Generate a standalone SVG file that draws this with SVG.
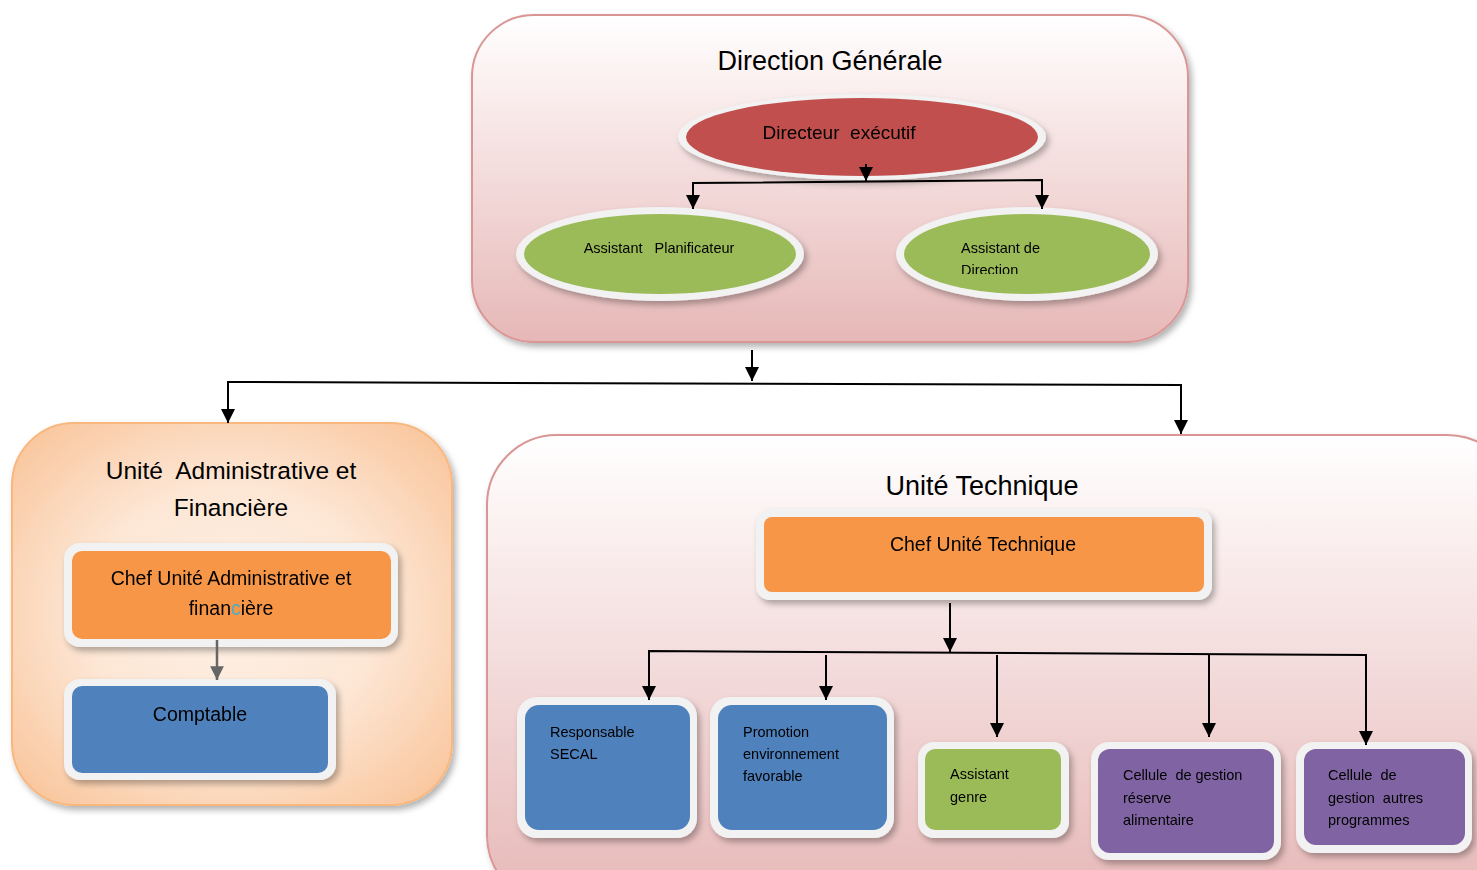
<svg xmlns="http://www.w3.org/2000/svg" width="1477" height="870" viewBox="0 0 1477 870">
<style>
text{font-family:"Liberation Sans",Arial,sans-serif;fill:#000;white-space:pre}
.t{font-size:27px;text-anchor:middle}
.m{font-size:19.5px;text-anchor:middle}
.s{font-size:14.5px}
.ring{fill:#f2f2f2}
.line{fill:none;stroke:#000;stroke-width:2}
</style>
<defs>
<linearGradient id="pinkG" x1="0" y1="0" x2="0" y2="1">
<stop offset="0" stop-color="#ffffff"/>
<stop offset="0.2" stop-color="#fbf0f0"/>
<stop offset="1" stop-color="#e6b8b7"/>
</linearGradient>
<radialGradient id="orG" cx="0.5" cy="0.5" r="0.75">
<stop offset="0" stop-color="#fef1e6"/>
<stop offset="0.45" stop-color="#fde6d4"/>
<stop offset="1" stop-color="#f8bd8d"/>
</radialGradient>
<filter id="sh" x="-10%" y="-10%" width="125%" height="130%">
<feDropShadow dx="3" dy="4" stdDeviation="3" flood-color="#000" flood-opacity="0.3"/>
</filter>
<marker id="ah" viewBox="0 0 10 10" refX="10" refY="5" markerWidth="7" markerHeight="7" orient="auto" markerUnits="strokeWidth">
<path d="M0,0 L10,5 L0,10 z" fill="#000"/>
</marker>
<marker id="ahg" viewBox="0 0 10 10" refX="10" refY="5" markerWidth="5.5" markerHeight="5.5" orient="auto" markerUnits="strokeWidth">
<path d="M0,0 L10,5 L0,10 z" fill="#666"/>
</marker>
<clipPath id="clipAD"><rect x="900" y="200" width="260" height="74"/></clipPath>
</defs>

<g id="direction-generale">
<rect x="472" y="15" width="716" height="327" rx="62" fill="url(#pinkG)" stroke="#d99694" stroke-width="2" filter="url(#sh)"/>
<text class="t" x="830" y="70">Direction Générale</text>
</g>

<g id="directeur-executif" filter="url(#sh)">
<ellipse cx="862" cy="137" rx="184" ry="43" class="ring"/>
<ellipse cx="862" cy="137" rx="176" ry="39" fill="#c0504d"/>
<text x="839" y="139" style="font-size:19px;text-anchor:middle">Directeur  exécutif</text>
</g>

<g id="assistant-planificateur" filter="url(#sh)">
<ellipse cx="660" cy="254" rx="144" ry="47" class="ring"/>
<ellipse cx="660" cy="254" rx="136" ry="40" fill="#9bbb59"/>
<text x="659" y="253" class="s" style="text-anchor:middle">Assistant   Planificateur</text>
</g>

<g id="assistant-direction" filter="url(#sh)">
<ellipse cx="1027" cy="254" rx="131" ry="47" class="ring"/>
<ellipse cx="1027" cy="254" rx="123" ry="40" fill="#9bbb59"/>
<g clip-path="url(#clipAD)">
<text x="961" y="253" class="s">Assistant de</text>
<text x="961" y="275" class="s">Direction</text>
</g>
</g>

<g id="unite-admin">
<rect x="12" y="423" width="440" height="382" rx="62" fill="url(#orG)" stroke="#f9b77d" stroke-width="2" filter="url(#sh)"/>
<text x="231" y="479" style="font-size:24.5px;text-anchor:middle">Unité  Administrative et</text>
<text x="231" y="516" style="font-size:24.5px;text-anchor:middle">Financière</text>
</g>

<g id="chef-admin" filter="url(#sh)">
<rect x="64" y="543" width="334" height="104" rx="16" class="ring"/>
<rect x="72" y="551" width="319" height="88" rx="10" fill="#f79646"/>
<text class="m" x="231" y="585">Chef Unité Administrative et</text>
<text class="m" x="231" y="615">finan<tspan fill="#4bacc6">c</tspan>ière</text>
</g>

<g id="comptable" filter="url(#sh)">
<rect x="64" y="679" width="272" height="101" rx="16" class="ring"/>
<rect x="72" y="686" width="256" height="87" rx="10" fill="#4f81bd"/>
<text class="m" x="200" y="721">Comptable</text>
</g>

<g id="unite-technique">
<rect x="487" y="435" width="1030" height="470" rx="70" fill="url(#pinkG)" stroke="#d99694" stroke-width="2" filter="url(#sh)"/>
<text class="t" x="982" y="495">Unité Technique</text>
</g>

<g id="chef-technique" filter="url(#sh)">
<rect x="756" y="509" width="456" height="91" rx="14" class="ring"/>
<rect x="764" y="517" width="440" height="75" rx="8" fill="#f79646"/>
<text class="m" x="983" y="551">Chef Unité Technique</text>
</g>

<g id="responsable-secal" filter="url(#sh)">
<rect x="517" y="697" width="180" height="141" rx="20" class="ring"/>
<rect x="525" y="705" width="165" height="125" rx="14" fill="#4f81bd"/>
<text class="s" x="550" y="737">Responsable</text>
<text class="s" x="550" y="759">SECAL</text>
</g>

<g id="promotion" filter="url(#sh)">
<rect x="710" y="697" width="184" height="141" rx="20" class="ring"/>
<rect x="718" y="705" width="169" height="125" rx="14" fill="#4f81bd"/>
<text class="s" x="743" y="737">Promotion</text>
<text class="s" x="743" y="759">environnement</text>
<text class="s" x="743" y="781">favorable</text>
</g>

<g id="assistant-genre" filter="url(#sh)">
<rect x="918" y="742" width="151" height="96" rx="16" class="ring"/>
<rect x="925" y="749" width="136" height="81" rx="10" fill="#9bbb59"/>
<text class="s" x="950" y="779">Assistant</text>
<text class="s" x="950" y="802">genre</text>
</g>

<g id="cellule-reserve" filter="url(#sh)">
<rect x="1091" y="742" width="190" height="118" rx="18" class="ring"/>
<rect x="1098" y="749" width="176" height="104" rx="12" fill="#8064a2"/>
<text class="s" x="1123" y="780">Cellule  de gestion</text>
<text class="s" x="1123" y="803">réserve</text>
<text class="s" x="1123" y="825">alimentaire</text>
</g>

<g id="cellule-autres" filter="url(#sh)">
<rect x="1296" y="742" width="176" height="111" rx="18" class="ring"/>
<rect x="1304" y="749" width="161" height="96" rx="12" fill="#8064a2"/>
<text class="s" x="1328" y="780">Cellule  de</text>
<text class="s" x="1328" y="803">gestion  autres</text>
<text class="s" x="1328" y="825">programmes</text>
</g>

<g id="connectors">
<path class="line" d="M866,164 L866,181" marker-end="url(#ah)"/>
<path class="line" d="M693,208 L693,183 L1042,180 L1042,208" />
<path class="line" d="M693,195 L693,209" marker-end="url(#ah)"/>
<path class="line" d="M1042,195 L1042,209" marker-end="url(#ah)"/>

<path class="line" d="M752,350 L752,381" marker-end="url(#ah)"/>
<path class="line" d="M228,423 L228,382 L1181,385 L1181,433"/>
<path class="line" d="M228,405 L228,423" marker-end="url(#ah)"/>
<path class="line" d="M1181,415 L1181,434" marker-end="url(#ah)"/>

<path d="M217,640 L217,680" fill="none" stroke="#666" stroke-width="2.5" marker-end="url(#ahg)"/>

<path class="line" d="M950,603 L950,652" marker-end="url(#ah)"/>
<path class="line" d="M649,699 L649,651 L1366,655 L1366,744"/>
<path class="line" d="M649,680 L649,700" marker-end="url(#ah)"/>
<path class="line" d="M826,655 L826,700" marker-end="url(#ah)"/>
<path class="line" d="M997,655 L997,737" marker-end="url(#ah)"/>
<path class="line" d="M1209,655 L1209,737" marker-end="url(#ah)"/>
<path class="line" d="M1366,720 L1366,745" marker-end="url(#ah)"/>
</g>
</svg>
